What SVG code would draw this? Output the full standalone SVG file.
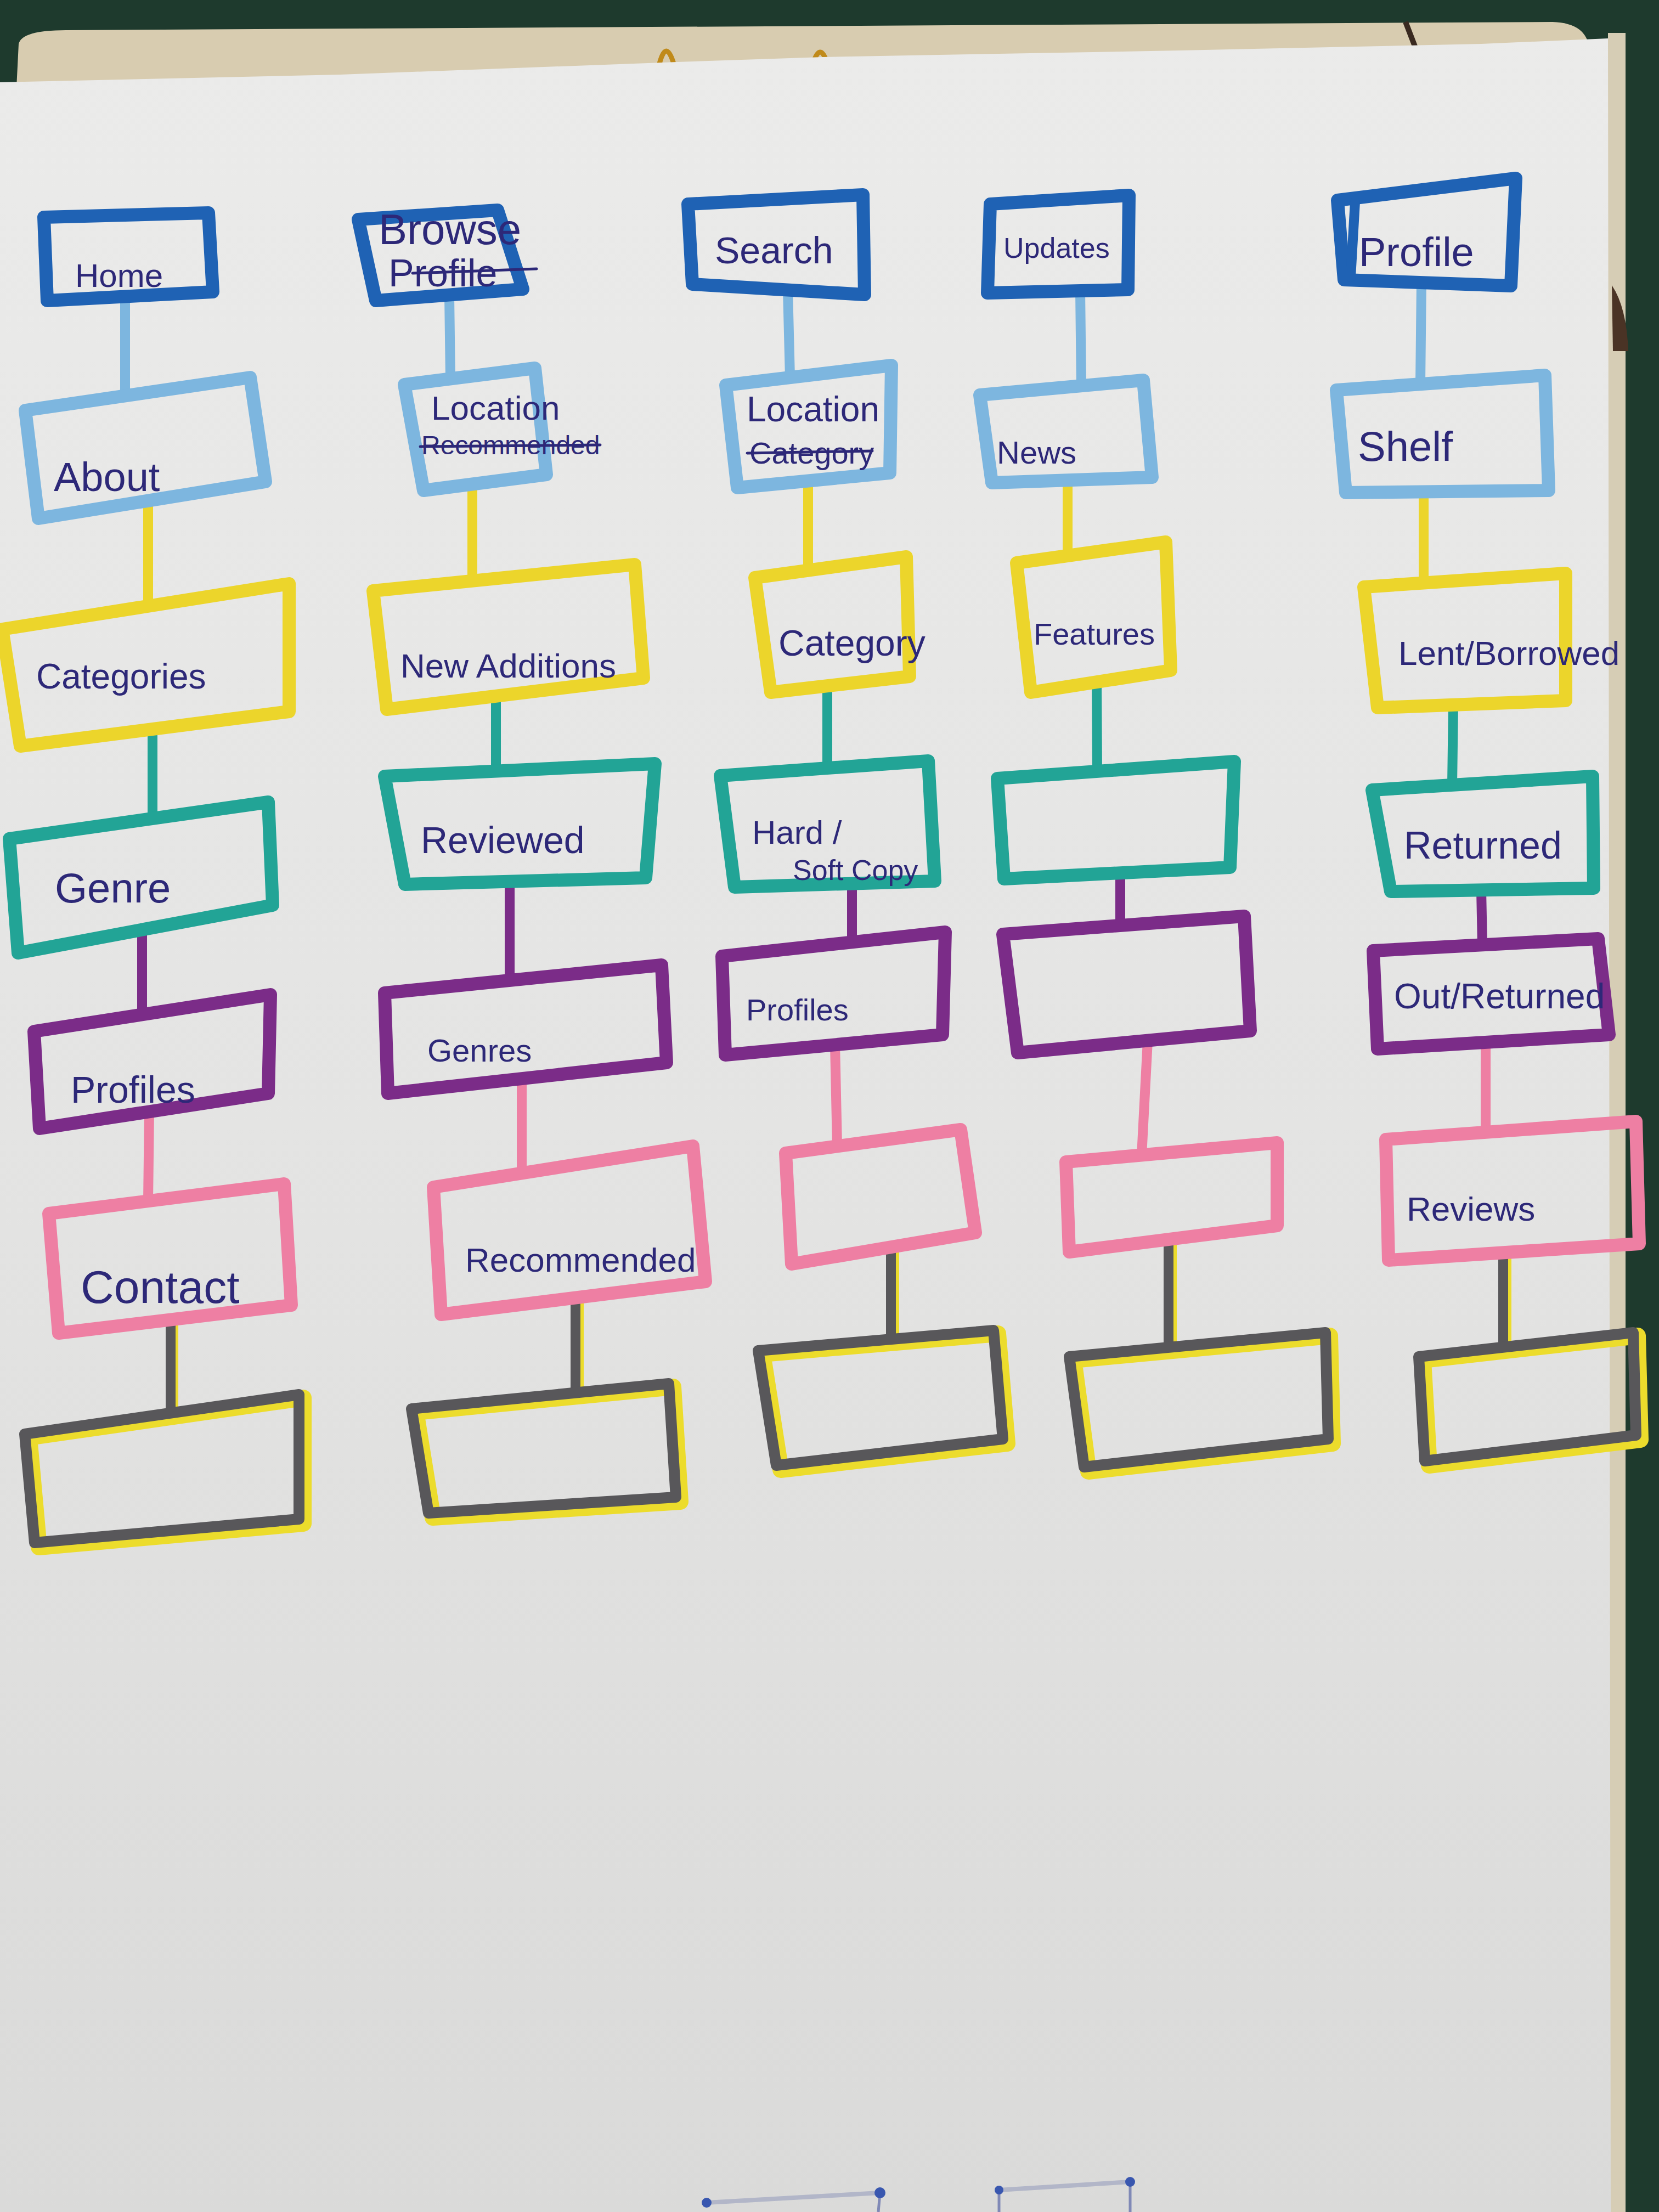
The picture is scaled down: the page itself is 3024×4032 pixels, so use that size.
<svg xmlns="http://www.w3.org/2000/svg" width="3024" height="4032" viewBox="0 0 3024 4032">
<defs>
<linearGradient id="paper" x1="0" y1="0" x2="0" y2="1">
<stop offset="0" stop-color="#ebebea"/>
<stop offset="0.5" stop-color="#e4e4e3"/>
<stop offset="1" stop-color="#dadad9"/>
</linearGradient>
<style>
.box{fill:none;stroke-width:24;stroke-linejoin:round;stroke-linecap:round}
.b1{stroke:#1f62b4}
.b2{stroke:#7db6df}
.b3{stroke:#ecd52b}
.b4{stroke:#22a496}
.b5{stroke:#7b2c88}
.b6{stroke:#ee7fa3}
.b7{stroke:#58575a;stroke-width:20}
.hl{fill:none;stroke:#ecdc2c;stroke-width:30;stroke-linejoin:round;stroke-linecap:round}
.c{fill:none;stroke-width:18;stroke-linecap:round}
.t{font-family:"Liberation Sans",Arial,sans-serif;fill:#2d2878}
.strike{stroke:#2d2878;stroke-width:5;stroke-linecap:round}
</style>
</defs>

<!-- scene background -->
<rect x="0" y="0" width="3024" height="4032" fill="#1e3a2d"/>
<path d="M30,160 L34,80 Q40,55 120,55 L2830,40 Q2893,42 2897,90 L2900,4032 L30,4032 Z" fill="#d8ccb0"/>
<rect x="2931" y="60" width="32" height="3972" fill="#d6cdb5"/>
<path d="M2938,520 Q2965,560 2968,640 L2940,640 Z" fill="#4a3325"/>
<line x1="2562" y1="40" x2="2582" y2="92" stroke="#3a2a20" stroke-width="10"/>
<path d="M1202,116 Q1214,70 1228,116" fill="none" stroke="#c08a1a" stroke-width="9"/>
<path d="M1484,110 Q1495,80 1506,110" fill="none" stroke="#c08a1a" stroke-width="9"/>
<path d="M0,150 L620,136 L1234,113 L1500,104 L2150,92 L2700,80 L2931,70 L2936,4032 L0,4032 Z" fill="url(#paper)"/>
<g id="pins" opacity="0.85">
<line x1="1288" y1="4015" x2="1604" y2="3997" stroke="#8a93b8" stroke-width="8" opacity="0.6"/>
<line x1="1821" y1="3992" x2="2060" y2="3977" stroke="#8a93b8" stroke-width="8" opacity="0.6"/>
<line x1="1604" y1="3997" x2="1601" y2="4032" stroke="#6f7ab0" stroke-width="5"/>
<line x1="1821" y1="3992" x2="1821" y2="4032" stroke="#6f7ab0" stroke-width="5"/>
<line x1="2060" y1="3977" x2="2060" y2="4032" stroke="#6f7ab0" stroke-width="5"/>
<circle cx="1288" cy="4015" r="9" fill="#1c3fa8"/>
<circle cx="1604" cy="3997" r="10" fill="#1c3fa8"/>
<circle cx="1821" cy="3992" r="8" fill="#1c3fa8"/>
<circle cx="2060" cy="3977" r="9" fill="#1c3fa8"/>
</g>

<g id="connectors">
<!-- column 1 -->
<line class="c b2" x1="228" y1="545" x2="228" y2="721"/>
<line class="c b3" x1="270" y1="913" x2="270" y2="1105"/>
<line class="c b4" x1="278" y1="1329" x2="278" y2="1492"/>
<line class="c b5" x1="259" y1="1695" x2="259" y2="1849"/>
<line class="c b6" x1="272" y1="2026" x2="270" y2="2189"/>
<line class="c" stroke="#ecdc2c" x1="316" y1="2405" x2="316" y2="2576"/>
<line class="c b7" x1="311" y1="2405" x2="311" y2="2576"/>
<!-- column 2 -->
<line class="c b2" x1="819" y1="540" x2="821" y2="690"/>
<line class="c b3" x1="861" y1="882" x2="861" y2="1059"/>
<line class="c b4" x1="904" y1="1269" x2="904" y2="1406"/>
<line class="c b5" x1="929" y1="1607" x2="929" y2="1787"/>
<line class="c b6" x1="951" y1="1966" x2="951" y2="2138"/>
<line class="c" stroke="#ecdc2c" x1="1055" y1="2366" x2="1055" y2="2539"/>
<line class="c b7" x1="1049" y1="2366" x2="1049" y2="2539"/>
<!-- column 3 -->
<line class="c b2" x1="1436" y1="529" x2="1440" y2="688"/>
<line class="c b3" x1="1473" y1="876" x2="1473" y2="1040"/>
<line class="c b4" x1="1508" y1="1250" x2="1508" y2="1400"/>
<line class="c b5" x1="1553" y1="1611" x2="1553" y2="1718"/>
<line class="c b6" x1="1522" y1="1904" x2="1526" y2="2089"/>
<line class="c" stroke="#ecdc2c" x1="1630" y1="2273" x2="1630" y2="2441"/>
<line class="c b7" x1="1624" y1="2273" x2="1624" y2="2441"/>
<!-- column 4 -->
<line class="c b2" x1="1969" y1="530" x2="1971" y2="705"/>
<line class="c b3" x1="1946" y1="875" x2="1946" y2="1013"/>
<line class="c b4" x1="1999" y1="1243" x2="2000" y2="1406"/>
<line class="c b5" x1="2042" y1="1591" x2="2042" y2="1687"/>
<line class="c b6" x1="2092" y1="1897" x2="2081" y2="2106"/>
<line class="c" stroke="#ecdc2c" x1="2136" y1="2258" x2="2136" y2="2456"/>
<line class="c b7" x1="2130" y1="2258" x2="2130" y2="2456"/>
<!-- column 5 -->
<line class="c b2" x1="2591" y1="515" x2="2589" y2="700"/>
<line class="c b3" x1="2595" y1="896" x2="2595" y2="1063"/>
<line class="c b4" x1="2649" y1="1285" x2="2647" y2="1431"/>
<line class="c b5" x1="2700" y1="1622" x2="2702" y2="1722"/>
<line class="c b6" x1="2708" y1="1899" x2="2708" y2="2064"/>
<line class="c" stroke="#ecdc2c" x1="2746" y1="2283" x2="2746" y2="2456"/>
<line class="c b7" x1="2740" y1="2283" x2="2740" y2="2456"/>
</g>

<!-- column 1 -->
<g id="node-home">
<polygon class="box b1" points="80,396 380,388 388,532 86,548"/>
<text class="t" x="137" y="523" font-size="60">Home</text>
</g>
<g id="node-about">
<polygon class="box b2" points="46,748 456,688 484,878 70,945"/>
<text class="t" x="98" y="895" font-size="74">About</text>
</g>
<g id="node-categories">
<polygon class="box b3" points="4,1147 527,1064 527,1297 37,1360"/>
<text class="t" x="66" y="1255" font-size="64">Categories</text>
</g>
<g id="node-genre">
<polygon class="box b4" points="17,1529 489,1462 497,1650 33,1737"/>
<text class="t" x="100" y="1645" font-size="76">Genre</text>
</g>
<g id="node-profiles-1">
<polygon class="box b5" points="62,1880 493,1813 489,1993 72,2057"/>
<text class="t" x="129" y="2010" font-size="68">Profiles</text>
</g>
<g id="node-contact">
<polygon class="box b6" points="89,2212 518,2158 531,2379 107,2430"/>
<text class="t" x="147" y="2375" font-size="84">Contact</text>
</g>
<g id="node-empty-1">
<polygon class="hl" points="53,2620 553,2548 553,2777 71,2820"/>
<polygon class="box b7" points="45,2614 545,2542 545,2769 63,2812"/>
</g>

<!-- column 2 -->
<g id="node-browse">
<polygon class="box b1" points="653,400 907,383 953,527 685,548"/>
<text class="t" x="690" y="445" font-size="78">Browse</text>
<text class="t" x="708" y="522" font-size="70">Profile</text>
<line class="strike" x1="752" y1="498" x2="978" y2="490"/>
</g>
<g id="node-location-2">
<polygon class="box b2" points="737,701 975,671 996,865 772,894"/>
<text class="t" x="786" y="765" font-size="62">Location</text>
<text class="t" x="768" y="828" font-size="48">Recommended</text>
<line class="strike" x1="766" y1="814" x2="1094" y2="811"/>
</g>
<g id="node-new-additions">
<polygon class="box b3" points="680,1077 1157,1029 1173,1236 705,1293"/>
<text class="t" x="730" y="1235" font-size="62">New Additions</text>
</g>
<g id="node-reviewed">
<polygon class="box b4" points="701,1415 1194,1392 1177,1600 738,1612"/>
<text class="t" x="767" y="1555" font-size="68">Reviewed</text>
</g>
<g id="node-genres">
<polygon class="box b5" points="701,1810 1206,1759 1215,1937 707,1993"/>
<text class="t" x="779" y="1935" font-size="58">Genres</text>
</g>
<g id="node-recommended">
<polygon class="box b6" points="790,2164 1263,2089 1286,2336 804,2396"/>
<text class="t" x="848" y="2318" font-size="62">Recommended</text>
</g>
<g id="node-empty-2">
<polygon class="hl" points="758,2574 1227,2528 1240,2737 789,2766"/>
<polygon class="box b7" points="750,2568 1219,2522 1232,2729 781,2758"/>
</g>

<!-- column 3 -->
<g id="node-search">
<polygon class="box b1" points="1254,372 1573,355 1576,537 1262,518"/>
<text class="t" x="1303" y="480" font-size="68">Search</text>
</g>
<g id="node-location-3">
<polygon class="box b2" points="1323,702 1625,666 1622,862 1344,889"/>
<text class="t" x="1361" y="768" font-size="64">Location</text>
<text class="t" x="1366" y="845" font-size="56">Category</text>
<line class="strike" x1="1362" y1="826" x2="1590" y2="822"/>
</g>
<g id="node-category">
<polygon class="box b3" points="1376,1053 1652,1015 1658,1233 1405,1262"/>
<text class="t" x="1419" y="1195" font-size="66">Category</text>
</g>
<g id="node-hard-soft">
<polygon class="box b4" points="1313,1414 1692,1387 1704,1606 1339,1617"/>
<text class="t" x="1371" y="1538" font-size="60">Hard /</text>
<text class="t" x="1445" y="1604" font-size="52">Soft Copy</text>
</g>
<g id="node-profiles-3">
<polygon class="box b5" points="1316,1743 1723,1699 1718,1886 1322,1923"/>
<text class="t" x="1360" y="1860" font-size="56">Profiles</text>
</g>
<g id="node-pink-3">
<polygon class="box b6" points="1432,2102 1751,2059 1778,2247 1443,2304"/>
</g>
<g id="node-empty-3">
<polygon class="hl" points="1390,2468 1819,2431 1836,2631 1423,2679"/>
<polygon class="box b7" points="1382,2462 1811,2425 1828,2623 1415,2671"/>
</g>

<!-- column 4 -->
<g id="node-updates">
<polygon class="box b1" points="1805,372 2058,356 2056,528 1800,534"/>
<text class="t" x="1829" y="470" font-size="52">Updates</text>
</g>
<g id="node-news">
<polygon class="box b2" points="1786,720 2084,693 2100,870 1808,880"/>
<text class="t" x="1817" y="845" font-size="58">News</text>
</g>
<g id="node-features">
<polygon class="box b3" points="1853,1026 2125,988 2134,1222 1879,1262"/>
<text class="t" x="1884" y="1175" font-size="56">Features</text>
</g>
<g id="node-teal-4">
<polygon class="box b4" points="1818,1419 2250,1388 2242,1581 1830,1602"/>
</g>
<g id="node-purple-4">
<polygon class="box b5" points="1828,1703 2268,1670 2279,1879 1855,1919"/>
</g>
<g id="node-pink-4">
<polygon class="box b6" points="1943,2118 2328,2083 2328,2234 1949,2282"/>
</g>
<g id="node-empty-4">
<polygon class="hl" points="1957,2479 2424,2435 2429,2631 1984,2682"/>
<polygon class="box b7" points="1949,2473 2416,2429 2421,2623 1976,2674"/>
</g>

<!-- column 5 -->
<g id="node-profile">
<polygon class="box b1" points="2438,365 2763,325 2754,521 2450,510"/>
<line class="c b1" x1="2470" y1="368" x2="2462" y2="505"/>
<text class="t" x="2477" y="485" font-size="74">Profile</text>
</g>
<g id="node-shelf">
<polygon class="box b2" points="2436,711 2816,684 2823,894 2453,898"/>
<text class="t" x="2475" y="840" font-size="76">Shelf</text>
</g>
<g id="node-lent-borrowed">
<polygon class="box b3" points="2486,1070 2854,1045 2854,1277 2511,1290"/>
<text class="t" x="2549" y="1212" font-size="62">Lent/Borrowed</text>
</g>
<g id="node-returned">
<polygon class="box b4" points="2501,1440 2903,1415 2905,1619 2535,1625"/>
<text class="t" x="2559" y="1565" font-size="70">Returned</text>
</g>
<g id="node-out-returned">
<polygon class="box b5" points="2503,1733 2913,1711 2933,1886 2511,1912"/>
<text class="t" x="2541" y="1838" font-size="64">Out/Returned</text>
</g>
<g id="node-reviews">
<polygon class="box b6" points="2526,2077 2982,2044 2988,2267 2531,2297"/>
<text class="t" x="2564" y="2225" font-size="62">Reviews</text>
</g>
<g id="node-empty-5">
<polygon class="hl" points="2594,2479 2985,2435 2990,2624 2605,2671"/>
<polygon class="box b7" points="2586,2473 2977,2429 2982,2616 2597,2663"/>
</g>
</svg>
